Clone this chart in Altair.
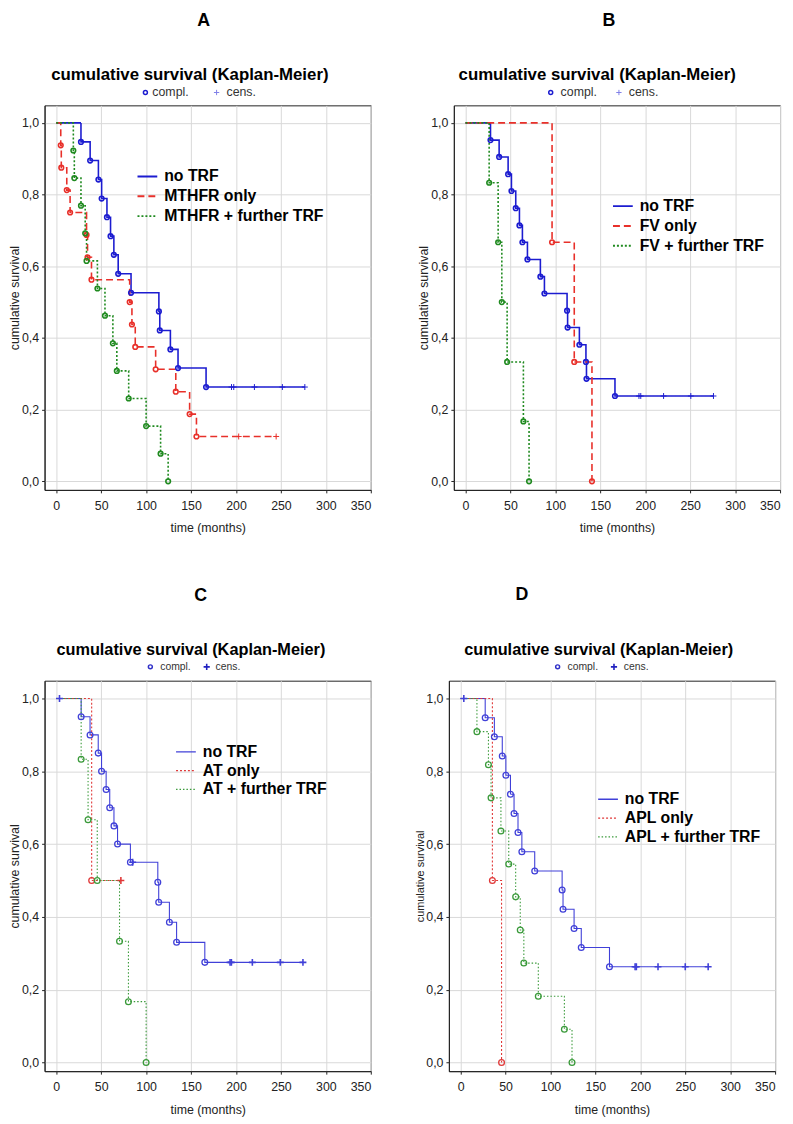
import altair as alt
import pandas as pd

FONT = "Liberation Sans"

# ---------------- Panel A (MTHFR) ----------------
A_NOTRF_T = [27.5, 37.7, 46.9, 50.5, 56.4, 60.4, 64.1, 68.9, 83.2, 114.2, 115.2, 127.0, 135.5, 166.7]
A_NOTRF_S = [0.947, 0.895, 0.842, 0.789, 0.737, 0.684, 0.632, 0.579, 0.526, 0.474, 0.421, 0.368, 0.316, 0.263]
A_NOTRF_C = [195.0, 197.5, 220.5, 251.6, 276.6]
A_ONLY_T = [5.0, 5.6, 11.7, 15.4, 33.7, 34.8, 39.2, 81.7, 84.2, 87.9, 110.6, 133.0, 148.4, 156.0]
A_ONLY_S = [0.9375, 0.875, 0.8125, 0.75, 0.6875, 0.625, 0.5625, 0.5, 0.4375, 0.375, 0.3125, 0.25, 0.1875, 0.125]
A_ONLY_C = [203.0, 244.7]
A_FURT_T = [19.0, 20.1, 27.5, 32.2, 33.7, 45.8, 54.2, 63.0, 67.4, 80.6, 100.0, 116.1, 124.5]
A_FURT_S = [0.923, 0.846, 0.769, 0.692, 0.615, 0.538, 0.462, 0.385, 0.308, 0.231, 0.154, 0.077, 0.0]
A_FURT_C = []
A_NAMES = ["no TRF", "MTHFR only", "MTHFR + further TRF"]

# ---------------- Panel B (FV) ----------------
B_NOTRF_T = [27.8, 37.4, 47.4, 51.1, 55.9, 60.0, 63.3, 68.9, 83.3, 87.8, 113.0, 113.6, 126.7, 134.0, 134.6, 166.3]
B_NOTRF_S = [0.952, 0.905, 0.857, 0.810, 0.762, 0.714, 0.667, 0.619, 0.571, 0.524, 0.476, 0.429, 0.381, 0.333, 0.286, 0.238]
B_NOTRF_C = [193.0, 195.0, 220.4, 250.7, 275.9]
B_ONLY_T = [96.3, 121.0, 140.7]
B_ONLY_S = [0.667, 0.333, 0.0]
B_ONLY_C = []
B_FURT_T = [26.3, 36.3, 40.4, 46.3, 64.4, 70.7]
B_FURT_S = [0.833, 0.667, 0.5, 0.333, 0.167, 0.0]
B_FURT_C = []
B_NAMES = ["no TRF", "FV only", "FV + further TRF"]

# ---------------- Panel C (AT) ----------------
C_NOTRF_T = [27.7, 37.6, 46.7, 50.4, 55.5, 59.5, 64.2, 68.2, 82.5, 113.0, 114.0, 125.9, 133.9, 165.3]
C_NOTRF_S = [0.95, 0.90, 0.85, 0.80, 0.75, 0.70, 0.65, 0.60, 0.55, 0.495, 0.44, 0.385, 0.33, 0.275]
C_NOTRF_C = [3.6, 85.0, 193.4, 194.9, 218.2, 249.3, 274.5]
C_ONLY_T = [39.4]
C_ONLY_S = [0.5]
C_ONLY_C = [71.9]
C_FURT_T = [27.7, 35.4, 45.6, 70.4, 80.3, 100.0]
C_FURT_S = [0.833, 0.667, 0.5, 0.333, 0.167, 0.0]
C_FURT_C = []
C_NAMES = ["no TRF", "AT only", "AT + further TRF"]

# ---------------- Panel D (APL) ----------------
D_NOTRF_T = [27.4, 37.6, 46.4, 50.4, 55.5, 59.5, 63.9, 68.2, 82.5, 113.0, 114.0, 126.3, 134.3, 165.7]
D_NOTRF_S = [0.947, 0.895, 0.842, 0.789, 0.737, 0.684, 0.632, 0.579, 0.526, 0.474, 0.421, 0.368, 0.316, 0.263]
D_NOTRF_C = [3.6, 194.2, 195.6, 219.7, 250.0, 275.5]
D_ONLY_T = [35.4, 45.6]
D_ONLY_S = [0.5, 0.0]
D_ONLY_C = []
D_FURT_T = [18.2, 31.0, 33.9, 44.9, 53.6, 61.3, 66.4, 70.4, 86.5, 115.5, 124.0]
D_FURT_S = [0.909, 0.818, 0.727, 0.636, 0.545, 0.455, 0.364, 0.273, 0.182, 0.091, 0.0]
D_FURT_C = []
D_NAMES = ["no TRF", "APL only", "APL + further TRF"]

X_TICKS = [0, 50, 100, 150, 200, 250, 300, 350]
Y_TICKS = [0.0, 0.2, 0.4, 0.6, 0.8, 1.0]
KM_TITLE = "cumulative survival (Kaplan-Meier)"


def km_tables(name, times, surv, cens, rank):
    first_event = times[0] if times else 1e9
    start = min(cens) if (cens and min(cens) < first_event) else 0.0
    pts = [(start, 1.0)] + list(zip(times, surv))
    last_t = times[-1] if times else start
    last_s = surv[-1] if surv else 1.0
    if cens and max(cens) > last_t:
        pts.append((max(cens), last_s))
    line = pd.DataFrame({"group": name, "t": [p[0] for p in pts],
                         "s": [p[1] for p in pts], "i": list(range(len(pts))),
                         "rank": rank})
    ev = pd.DataFrame({"group": name, "t": times, "s": surv, "rank": rank})

    def level(c):
        v = 1.0
        for t, s in zip(times, surv):
            if t <= c:
                v = s
        return v
    ce = pd.DataFrame({"group": name, "t": cens, "s": [level(c) for c in cens], "rank": rank})
    return line, ev, ce


PLUS = "M-1,0H1M0,-1V1"


def panel(letter, names, series, style, pos, height, ytitle_size):
    lines, evs, cens = [], [], []
    for k, (nm, (tt, ss, cc)) in enumerate(zip(names, series)):
        l, e, c = km_tables(nm, tt, ss, cc, k)
        lines.append(l); evs.append(e); cens.append(c)
    ldf = pd.concat(lines, ignore_index=True)
    edf = pd.concat(evs, ignore_index=True)
    cdf = pd.concat([c for c in cens if len(c)], ignore_index=True)

    xs = alt.Scale(domain=[-13, 350], nice=False, zero=False)
    ys = alt.Scale(domain=[-0.024, 1.049], nice=False, zero=False)
    xax = alt.Axis(values=X_TICKS, title="time (months)", grid=True)
    yax = alt.Axis(values=Y_TICKS, title="cumulative survival", grid=True,
                   labelExpr="replace(format(datum.value, '.1f'), '.', ',')",
                   titleFontSize=ytitle_size)
    cscale = alt.Scale(domain=names, range=style["colors"])
    dscale = alt.Scale(domain=names, range=style["dashes"])
    leg = alt.Legend(title=None, orient="none", legendX=pos["leg"][0], legendY=pos["leg"][1],
                     symbolType="stroke", symbolSize=400, symbolStrokeWidth=style["lw"] + 0.3,
                     labelFont=FONT, labelFontSize=16, labelFontWeight="bold",
                     labelColor="black", labelOffset=6, rowPadding=pos["rp"], padding=0,
                     labelLimit=400)

    line_l = alt.Chart(ldf).mark_line(interpolate="step-after", strokeWidth=style["lw"]).encode(
        x=alt.X("t:Q", scale=xs, axis=xax),
        y=alt.Y("s:Q", scale=ys, axis=yax),
        color=alt.Color("group:N", scale=cscale, legend=leg),
        strokeDash=alt.StrokeDash("group:N", scale=dscale, legend=leg),
        detail="group:N",
        order="i:Q",
    )
    circ_l = alt.Chart(edf).mark_point(shape="circle", filled=False, size=style["csize"],
                                       strokeWidth=style["cw"], opacity=1).encode(
        x=alt.X("t:Q", scale=xs), y=alt.Y("s:Q", scale=ys),
        color=alt.Color("group:N", scale=cscale, legend=None),
    )
    cens_l = alt.Chart(cdf).mark_point(shape=PLUS, filled=False, size=style["psize"],
                                       strokeWidth=style["pw"], opacity=1).encode(
        x=alt.X("t:Q", scale=xs), y=alt.Y("s:Q", scale=ys),
        color=alt.Color("group:N", scale=cscale, legend=None),
    )
    one = pd.DataFrame({"k": [0]})
    let_l = alt.Chart(one).mark_text(text=letter, font=FONT, fontSize=18, fontWeight="bold",
                                     color="black", align="center", baseline="middle").encode(
        x=alt.value(pos["letter"][0]), y=alt.value(pos["letter"][1]))
    tit_l = alt.Chart(one).mark_text(text=KM_TITLE, font=FONT, fontSize=style["tsize"],
                                     fontWeight="bold", color="black", align="center",
                                     baseline="middle").encode(
        x=alt.value(pos["title"][0]), y=alt.value(pos["title"][1]))
    ly = pos["key"][4]
    kc_l = alt.Chart(one).mark_point(shape="circle", filled=False, size=16, strokeWidth=1.5,
                                     color=style["key"], opacity=1).encode(
        x=alt.value(pos["key"][0]), y=alt.value(ly))
    kt1 = alt.Chart(one).mark_text(text="compl.", font=FONT, fontSize=style["ksize"], color="#333",
                                   align="left", baseline="middle").encode(
        x=alt.value(pos["key"][1]), y=alt.value(ly))
    kp_l = alt.Chart(one).mark_point(shape=PLUS, filled=False, size=style["psize"] * 0.8,
                                     strokeWidth=style["pw"], color=style["keyplus"], opacity=1).encode(
        x=alt.value(pos["key"][2]), y=alt.value(ly))
    kt2 = alt.Chart(one).mark_text(text="cens.", font=FONT, fontSize=style["ksize"], color="#333",
                                   align="left", baseline="middle").encode(
        x=alt.value(pos["key"][3]), y=alt.value(ly))

    return alt.layer(line_l, circ_l, cens_l, let_l, tit_l, kc_l, kt1, kp_l, kt2).properties(
        width=330, height=height)


STYLE_AB = {"colors": ["#1c1cd0", "#e8302a", "#1f8a1f"], "dashes": [[1, 0], [7, 4], [2, 2]],
            "lw": 1.6, "csize": 22, "cw": 1.6, "psize": 36, "pw": 1.0, "tsize": 17,
            "ksize": 12.5, "key": "#1c1cd0", "keyplus": "#8080e8"}
STYLE_CD = {"colors": ["#4040d8", "#e03838", "#3a9a3a"], "dashes": [[1, 0], [2, 2], [1.5, 2]],
            "lw": 1.1, "csize": 34, "cw": 1.3, "psize": 49, "pw": 1.6, "tsize": 16.5,
            "ksize": 10.5, "key": "#3030c8", "keyplus": "#2020c0"}

pA = panel("A", A_NAMES,
           [(A_NOTRF_T, A_NOTRF_S, A_NOTRF_C), (A_ONLY_T, A_ONLY_S, A_ONLY_C), (A_FURT_T, A_FURT_S, A_FURT_C)],
           STYLE_AB, {"letter": (161, -85), "title": (147, -31), "key": (102, 109, 174, 184, -13),
                      "leg": (93, 61), "rp": 1}, 389, 12.5)
pB = panel("B", B_NAMES,
           [(B_NOTRF_T, B_NOTRF_S, B_NOTRF_C), (B_ONLY_T, B_ONLY_S, B_ONLY_C), (B_FURT_T, B_FURT_S, B_FURT_C)],
           STYLE_AB, {"letter": (157, -85), "title": (145, -31), "key": (98, 108, 167, 177, -13),
                      "leg": (160, 91), "rp": 1}, 389, 12.5)
pC = panel("C", C_NAMES,
           [(C_NOTRF_T, C_NOTRF_S, C_NOTRF_C), (C_ONLY_T, C_ONLY_S, C_ONLY_C), (C_FURT_T, C_FURT_S, C_FURT_C)],
           STYLE_CD, {"letter": (158, -86), "title": (148, -31), "key": (107, 117, 164, 173, -14),
                      "leg": (132, 61), "rp": 0}, 395, 12.5)
pD = panel("D", D_NAMES,
           [(D_NOTRF_T, D_NOTRF_S, D_NOTRF_C), (D_ONLY_T, D_ONLY_S, D_ONLY_C), (D_FURT_T, D_FURT_S, D_FURT_C)],
           STYLE_CD, {"letter": (74, -87), "title": (151.5, -31), "key": (110, 120, 167, 177, -14),
                      "leg": (150, 109), "rp": 0}, 395, 11)

row1 = alt.hconcat(pA, pB, spacing=46).resolve_scale(color="independent", strokeDash="independent")
row2 = alt.hconcat(pC, pD, spacing=43).resolve_scale(color="independent", strokeDash="independent")

chart = alt.vconcat(row1, row2, spacing=50).resolve_scale(
    color="independent", strokeDash="independent"
).properties(
    padding={"left": 0, "top": -3, "right": 4, "bottom": 4}
).configure_view(
    stroke="#222", strokeWidth=1
).configure_axis(
    domainColor="#222", tickColor="#222", tickSize=3, labelPadding=3,
    gridColor="#d9d9d9", gridWidth=1,
    labelFont=FONT, labelFontSize=12.5, labelColor="#222",
    titleFont=FONT, titleFontSize=12.5, titleFontWeight="normal", titleColor="#222",
).configure_axisY(titlePadding=0).configure_axisX(titlePadding=10, labelPadding=7)

chart.save("out.html", embed_options={"renderer": "svg", "actions": False})
